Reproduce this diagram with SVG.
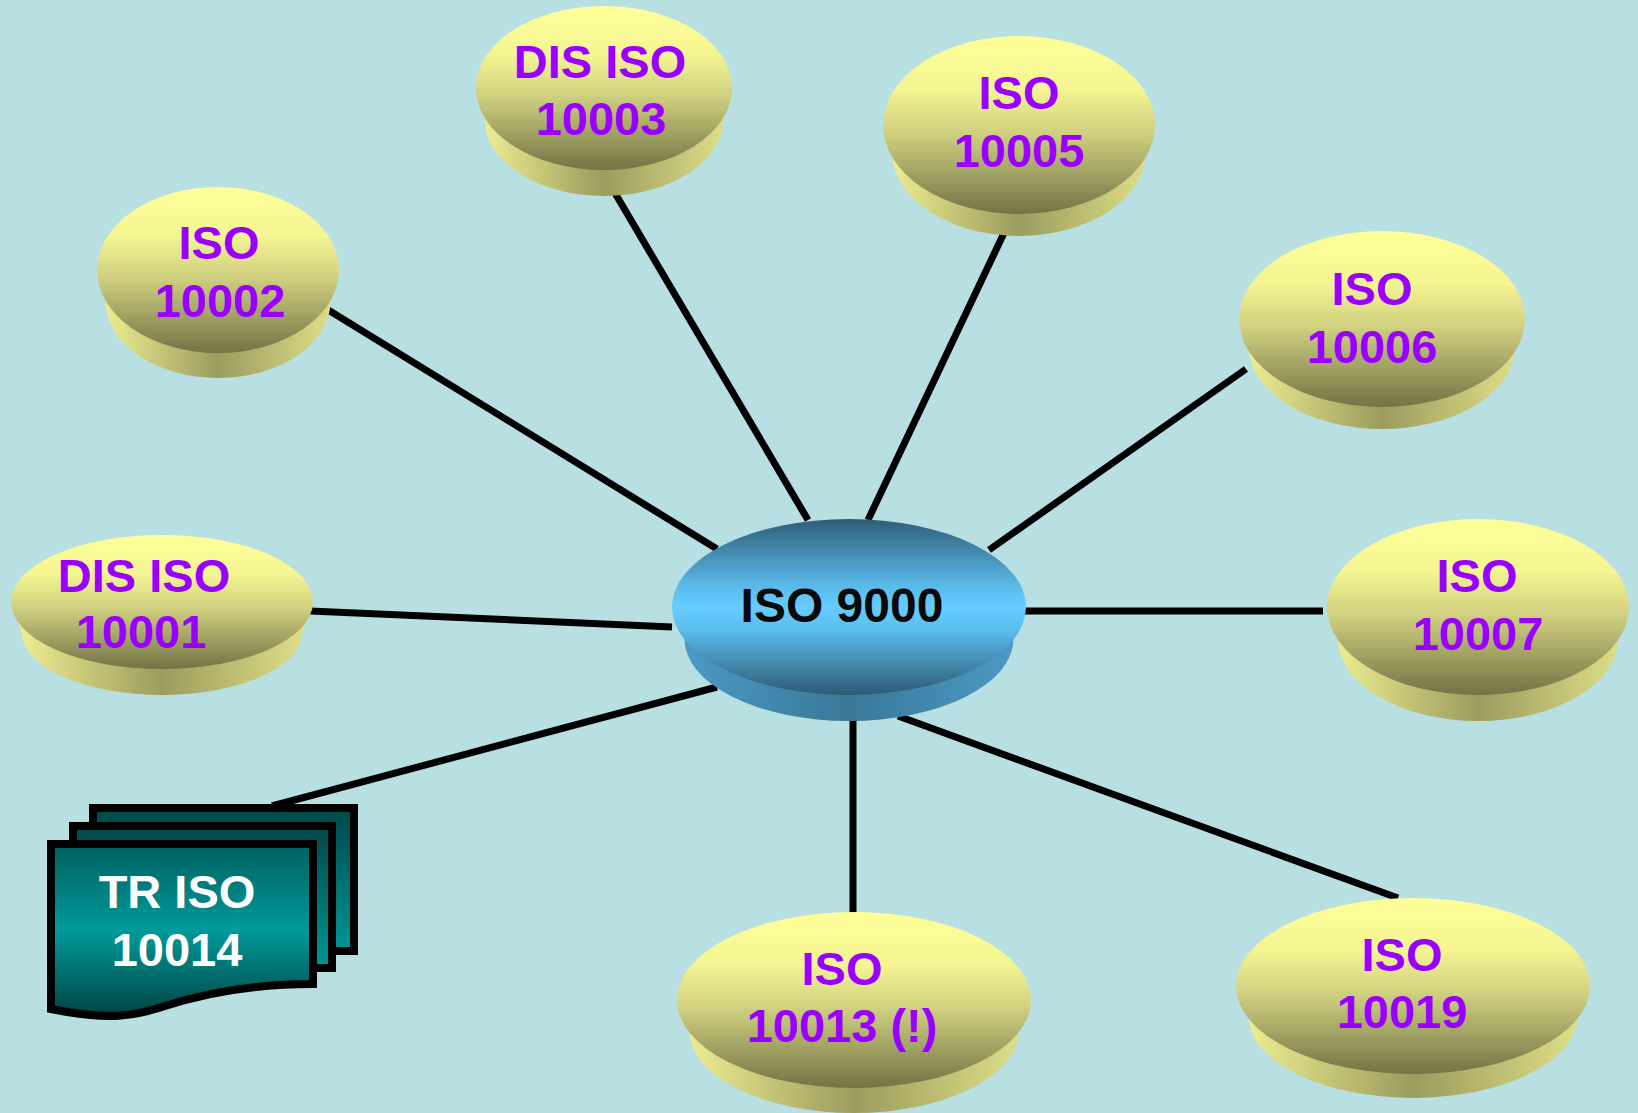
<svg xmlns="http://www.w3.org/2000/svg" width="1638" height="1113" viewBox="0 0 1638 1113">
<defs>
<linearGradient id="yTop" x1="0" y1="0" x2="0" y2="1">
<stop offset="0" stop-color="#FFFF99"/>
<stop offset="0.3" stop-color="#F4F492"/>
<stop offset="0.55" stop-color="#CFCF80"/>
<stop offset="1" stop-color="#737345"/>
</linearGradient>
<linearGradient id="ySide" x1="0" y1="0" x2="1" y2="0">
<stop offset="0" stop-color="#F2F294"/>
<stop offset="0.5" stop-color="#9C9C5E"/>
<stop offset="1" stop-color="#E2E28A"/>
</linearGradient>
<linearGradient id="bTop" x1="0" y1="0" x2="0" y2="1">
<stop offset="0" stop-color="#2E5E78"/>
<stop offset="0.4" stop-color="#5CBEEE"/>
<stop offset="0.5" stop-color="#66CCFF"/>
<stop offset="0.62" stop-color="#5CBEEE"/>
<stop offset="1" stop-color="#2D5B74"/>
</linearGradient>
<linearGradient id="bSide" x1="0" y1="0" x2="1" y2="0">
<stop offset="0" stop-color="#4C9CC8"/>
<stop offset="0.5" stop-color="#3A7898"/>
<stop offset="1" stop-color="#4C9CC8"/>
</linearGradient>
<linearGradient id="tFront" x1="0" y1="0" x2="0" y2="1">
<stop offset="0" stop-color="#006060"/>
<stop offset="0.5" stop-color="#009A9A"/>
<stop offset="1" stop-color="#004444"/>
</linearGradient>
<linearGradient id="tBack" x1="0" y1="0" x2="0" y2="1">
<stop offset="0" stop-color="#004848"/>
<stop offset="1" stop-color="#009595"/>
</linearGradient>
</defs>
<style>
.yt{fill:url(#yTop)}
.ys{fill:url(#ySide)}
.lbl{font-family:"Liberation Sans",Arial,sans-serif;font-weight:bold;font-size:47px;text-anchor:middle}
.p{fill:#9900FF}
.conn line{stroke:#000;stroke-width:7}
.page{stroke:#000;stroke-width:8;stroke-linejoin:miter}
</style>
<rect x="0" y="0" width="1638" height="1113" fill="#B8E0E2"/>

<g id="connectors" class="conn">
<line x1="325" y1="308" x2="717" y2="549"/>
<line x1="612" y1="188" x2="808" y2="520"/>
<line x1="1004" y1="233" x2="868" y2="520"/>
<line x1="1246" y1="369" x2="989" y2="550"/>
<line x1="1020" y1="611" x2="1323" y2="611"/>
<line x1="310" y1="611" x2="672" y2="627"/>
<line x1="272" y1="806" x2="717" y2="687"/>
<line x1="853" y1="716" x2="853" y2="914"/>
<line x1="898" y1="716" x2="1398" y2="898"/>
</g>

<g id="n10003">
<path class="ys" d="M 476 88 L 485 120 A 119 76 0 0 0 723 120 L 732 88 Z"/>
<ellipse class="yt" cx="604" cy="88" rx="128" ry="82"/>
<text class="lbl p" x="600" y="78">DIS ISO</text>
<text class="lbl p" x="601" y="135">10003</text>
</g>

<g id="n10005">
<path class="ys" d="M 883 125 L 892.5 153 A 126.5 83 0 0 0 1145.5 153 L 1155 125 Z"/>
<ellipse class="yt" cx="1019" cy="125" rx="136" ry="89"/>
<text class="lbl p" x="1019" y="109">ISO</text>
<text class="lbl p" x="1019" y="167">10005</text>
</g>

<g id="n10002">
<path class="ys" d="M 97 270 L 105.5 301 A 112.5 77 0 0 0 330.5 301 L 339 270 Z"/>
<ellipse class="yt" cx="218" cy="270" rx="121" ry="83"/>
<text class="lbl p" x="219" y="259">ISO</text>
<text class="lbl p" x="220" y="317">10002</text>
</g>

<g id="n10006">
<path class="ys" d="M 1239 319 L 1249 347 A 133 82 0 0 0 1515 347 L 1525 319 Z"/>
<ellipse class="yt" cx="1382" cy="319" rx="143" ry="88"/>
<text class="lbl p" x="1372" y="305">ISO</text>
<text class="lbl p" x="1372" y="363">10006</text>
</g>

<g id="n10001">
<path class="ys" d="M 11 602 L 22 633 A 140 62 0 0 0 302 633 L 313 602 Z"/>
<ellipse class="yt" cx="162" cy="602" rx="151" ry="67"/>
<text class="lbl p" x="144" y="592">DIS ISO</text>
<text class="lbl p" x="141" y="648">10001</text>
</g>

<g id="n10007">
<path class="ys" d="M 1327 607 L 1338 639 A 140 82 0 0 0 1618 639 L 1629 607 Z"/>
<ellipse class="yt" cx="1478" cy="607" rx="151" ry="88"/>
<text class="lbl p" x="1477" y="592">ISO</text>
<text class="lbl p" x="1478" y="650">10007</text>
</g>

<g id="n10013">
<path class="ys" d="M 677 1000 L 689.5 1031 A 164.5 82 0 0 0 1018.5 1031 L 1031 1000 Z"/>
<ellipse class="yt" cx="854" cy="1000" rx="177" ry="88"/>
<text class="lbl p" x="842" y="985">ISO</text>
<text class="lbl p" x="842" y="1042">10013 (!)</text>
</g>

<g id="n10019">
<path class="ys" d="M 1236 986 L 1248.5 1016 A 164.5 82 0 0 0 1577.5 1016 L 1590 986 Z"/>
<ellipse class="yt" cx="1413" cy="986" rx="177" ry="88"/>
<text class="lbl p" x="1402" y="971">ISO</text>
<text class="lbl p" x="1402" y="1028">10019</text>
</g>

<g id="n9000">
<path fill="url(#bSide)" d="M 672 607 L 684.5 639 A 164.5 82 0 0 0 1013.5 639 L 1026 607 Z"/>
<ellipse fill="url(#bTop)" cx="849" cy="607" rx="177" ry="88"/>
<text class="lbl" x="842" y="622" fill="#0A0A0A" style="font-size:48px">ISO 9000</text>
</g>

<g id="n10014">
<rect class="page" x="93" y="808" width="261" height="143" fill="url(#tBack)"/>
<rect class="page" x="73" y="826" width="259" height="142" fill="url(#tBack)"/>
<path class="page" fill="url(#tFront)" d="M 51 844 L 313 844 L 313 984 C 250 984 205 993 165 1006 C 135 1016 110 1021 51 1009 Z"/>
<text class="lbl" x="177" y="908" fill="#FFFFFF">TR ISO</text>
<text class="lbl" x="177" y="966" fill="#FFFFFF">10014</text>
</g>
</svg>
